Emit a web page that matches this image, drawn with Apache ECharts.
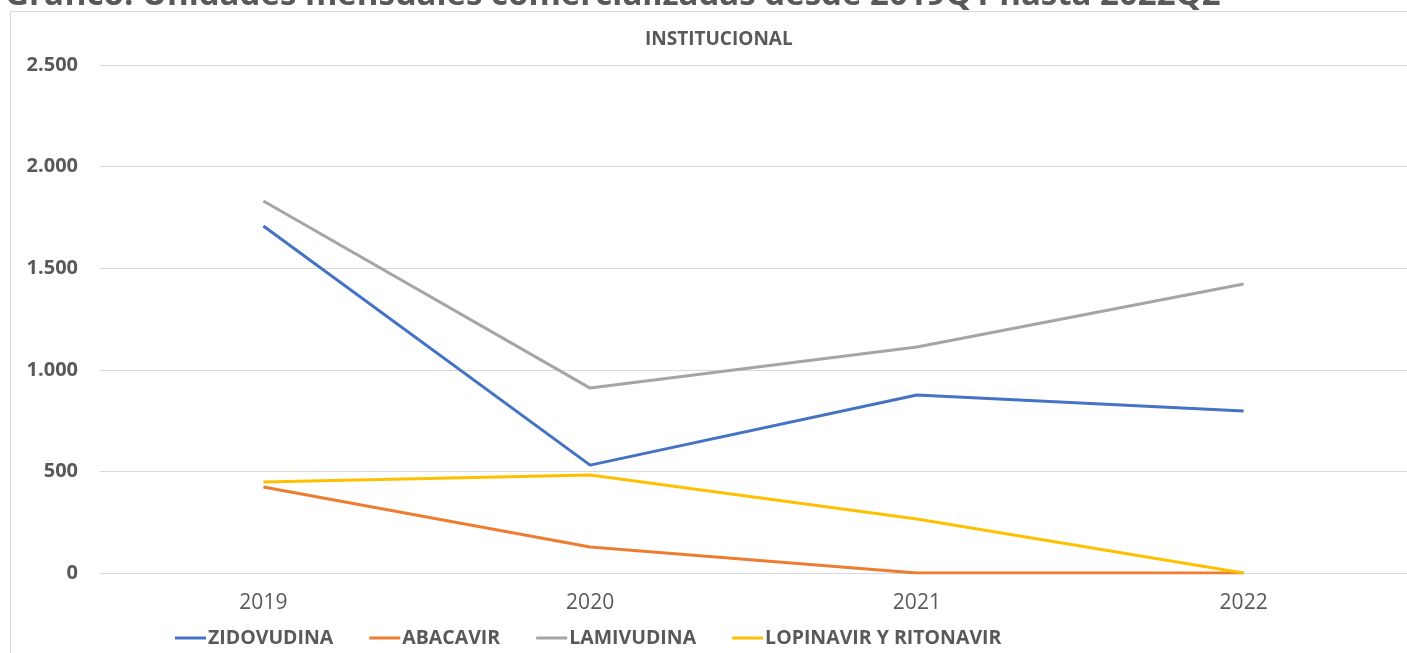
<!DOCTYPE html>
<html><head><meta charset="utf-8">
<script src="https://cdn.jsdelivr.net/npm/echarts@6/dist/echarts.min.js"></script>
<style>html,body{margin:0;padding:0;background:#fff}#c{width:1407px;height:653px}</style>
</head><body><div id="c"></div>
<script>
const categories = ['2019', '2020', '2021', '2022'];
const zidovudina = [1708, 531, 876, 797];
const abacavir = [423, 128, 0, 0];
const lamivudina = [1831, 910, 1112, 1422];
const lopinavir = [448, 482, 266, 0];
const yTicks = { min: 0, max: 2500, interval: 500 };

const chart = echarts.init(document.getElementById('c'));
const fmt = v => String(v).replace(/\B(?=(\d{3})+(?!\d))/g, '.');
const mk = (name, data, color) => ({
  name, type: 'line', data, symbol: 'none', smooth: false,
  lineStyle: { color, width: 3 }, itemStyle: { color }
});
chart.setOption({
  animation: false,
  backgroundColor: '#fff',
  textStyle: { fontFamily: 'Open Sans' },
  graphic: [
    { type: 'line', shape: { x1: 10.5, y1: 11, x2: 10.5, y2: 653 }, style: { stroke: '#d9d9d9', lineWidth: 1 } },
    { type: 'line', shape: { x1: 10, y1: 11.5, x2: 1407, y2: 11.5 }, style: { stroke: '#d9d9d9', lineWidth: 1 } },
    { type: 'text', left: 5, top: -21, style: { text: 'Gráfico: Unidades mensuales comercializadas desde 2019Q1 hasta 2022Q2', fontSize: 33, fontWeight: 'bold', fill: '#595959', fontFamily: 'Open Sans' } }
  ],
  title: {
    text: 'INSTITUCIONAL', left: 640, top: 25,
    textStyle: { fontSize: 19, fontWeight: 'bold', color: '#595959', fontFamily: 'Open Sans' }
  },
  legend: {
    bottom: 0, left: 170, itemWidth: 31, itemHeight: 3, itemGap: 36,
    icon: 'rect',
    textStyle: { fontSize: 19.5, fontWeight: 'bold', color: '#595959', padding: [0, 0, 0, -3] },
    data: ['ZIDOVUDINA', 'ABACAVIR', 'LAMIVUDINA', 'LOPINAVIR Y RITONAVIR']
  },
  grid: { left: 100, right: 0, top: 65, bottom: 80 },
  xAxis: {
    type: 'category', data: categories, boundaryGap: true,
    axisLine: { lineStyle: { color: '#d9d9d9' } },
    axisTick: { show: false },
    axisLabel: { fontSize: 21, color: '#595959', margin: 20 }
  },
  yAxis: {
    type: 'value', min: yTicks.min, max: yTicks.max, interval: yTicks.interval,
    axisLine: { show: false }, axisTick: { show: false },
    splitLine: { lineStyle: { color: '#d9d9d9' } },
    axisLabel: { fontSize: 20, fontWeight: 'bold', color: '#595959', margin: 22, formatter: fmt }
  },
  series: [
    mk('ZIDOVUDINA', zidovudina, '#4472C4'),
    mk('ABACAVIR', abacavir, '#ED7D31'),
    mk('LAMIVUDINA', lamivudina, '#A5A5A5'),
    mk('LOPINAVIR Y RITONAVIR', lopinavir, '#FFC000')
  ]
});
</script></body></html>
